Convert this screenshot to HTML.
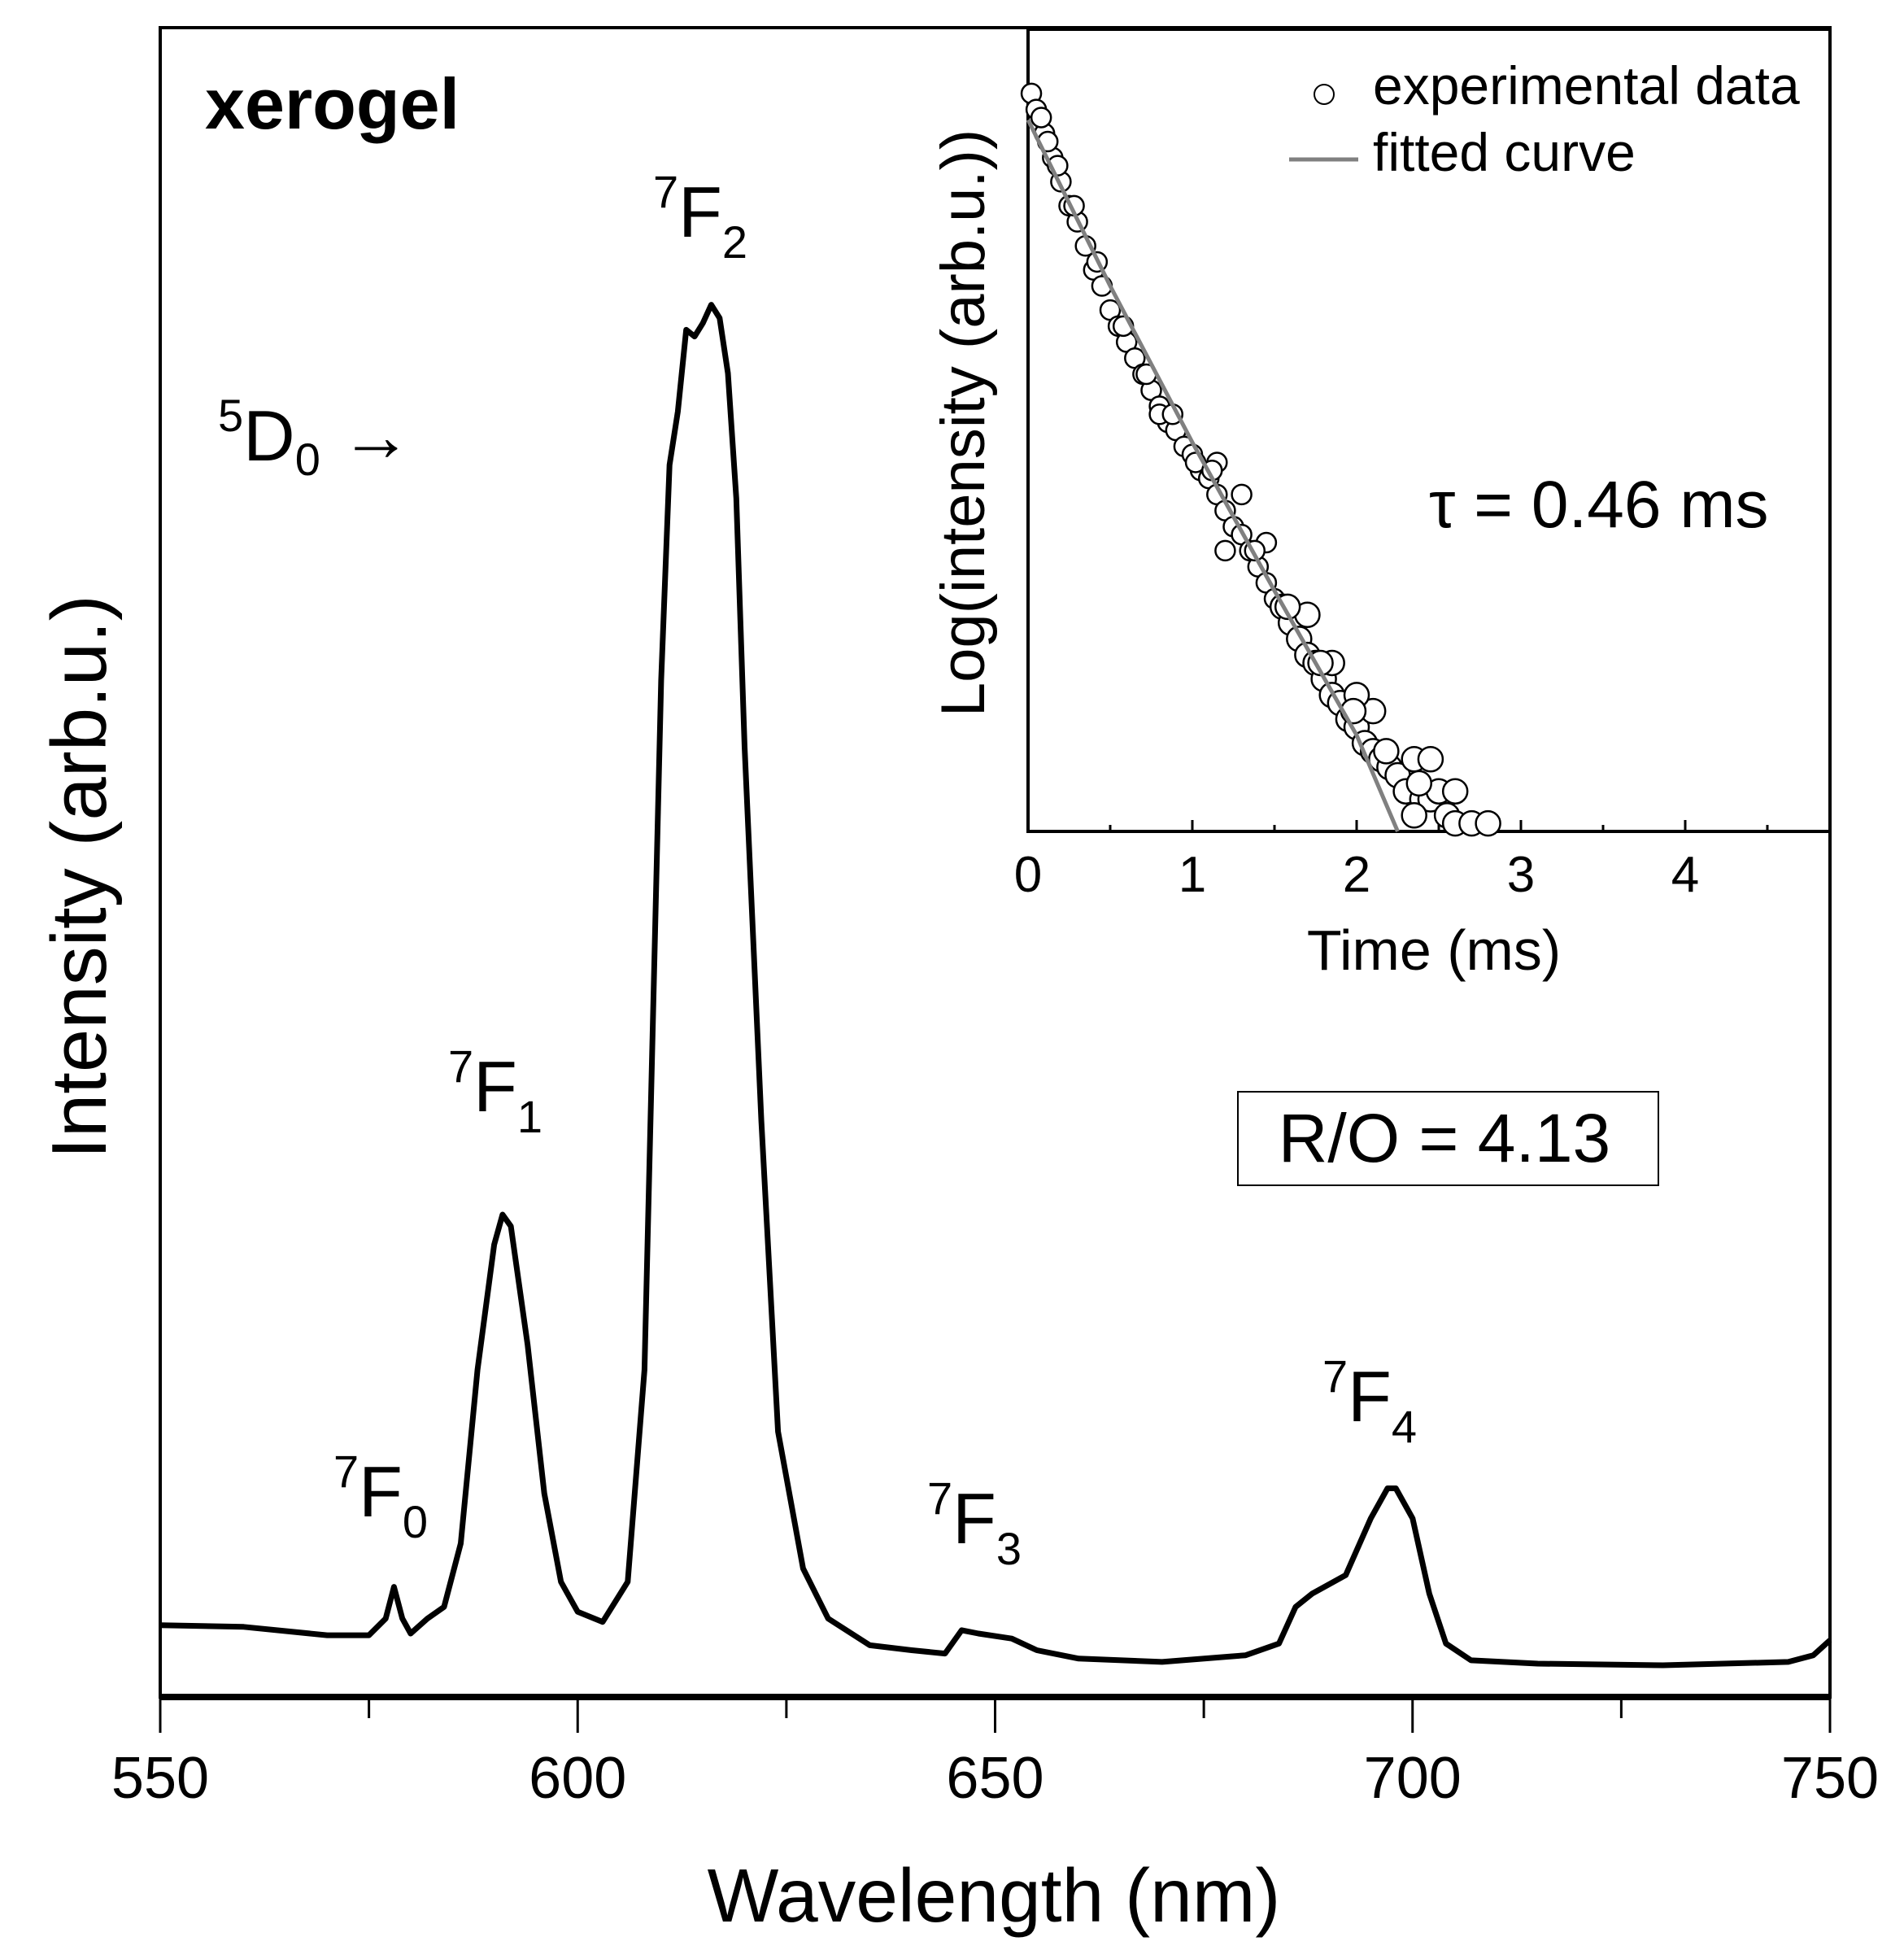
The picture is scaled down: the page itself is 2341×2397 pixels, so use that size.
<!DOCTYPE html>
<html><head><meta charset="utf-8"><style>
html,body{margin:0;padding:0;background:#fff}
svg{display:block;font-family:"Liberation Sans",sans-serif}
</style></head><body>
<svg id="c" width="2341" height="2397" viewBox="0 0 2341 2397" xmlns="http://www.w3.org/2000/svg">
<rect width="2341" height="2397" fill="#fff"/>
<g id="main"></g>
<g id="inset"></g>
<text x="252" y="158" font-size="88" font-weight="bold">xerogel</text>
<text x="268" y="566" font-size="88"><tspan font-size="56" dy="-36">5</tspan><tspan dy="36">D</tspan><tspan font-size="56" dy="18">0</tspan><tspan dy="-18"> →</tspan></text>
<text x="803" y="291" font-size="88"><tspan font-size="56" dy="-36">7</tspan><tspan dy="36">F</tspan><tspan font-size="56" dy="26">2</tspan></text>
<text x="551" y="1366" font-size="88"><tspan font-size="56" dy="-36">7</tspan><tspan dy="36">F</tspan><tspan font-size="56" dy="26">1</tspan></text>
<text x="410" y="1864" font-size="88"><tspan font-size="56" dy="-36">7</tspan><tspan dy="36">F</tspan><tspan font-size="56" dy="26">0</tspan></text>
<text x="1140" y="1897" font-size="88"><tspan font-size="56" dy="-36">7</tspan><tspan dy="36">F</tspan><tspan font-size="56" dy="26">3</tspan></text>
<text x="1626" y="1747" font-size="88"><tspan font-size="56" dy="-36">7</tspan><tspan dy="36">F</tspan><tspan font-size="56" dy="26">4</tspan></text>
<rect x="1522" y="1342" width="517" height="115" fill="none" stroke="#000" stroke-width="2"/>
<text x="1776" y="1428" font-size="84" text-anchor="middle">R/O = 4.13</text>
<text transform="translate(130,1078) rotate(-90)" font-size="96" text-anchor="middle">Intensity (arb.u.)</text>
<text x="1222" y="2362" font-size="93" text-anchor="middle">Wavelength (nm)</text>
<text transform="translate(1210,520) rotate(-90)" font-size="76" text-anchor="middle">Log(intensity (arb.u.))</text>
<text x="1763" y="1192" font-size="70" text-anchor="middle">Time (ms)</text>
<text x="1757" y="648" font-size="82">τ = 0.46 ms</text>
<circle cx="1628" cy="116" r="12" fill="#fff" stroke="#000" stroke-width="2"/>
<text x="1688" y="128" font-size="66">experimental data</text>
<line x1="1585" y1="196" x2="1670" y2="196" stroke="#808080" stroke-width="5"/>
<text x="1688" y="210" font-size="66">fitted curve</text>
</svg>
<script>
const wl=[550,560,570,575,577,578,579,580,582,584,586,588,590,591,592,594,596,598,600,603,606,608,610,611,612,613,614,615,616,617,618,619,620,622,624,627,630,635,640,644,646,648,652,655,660,670,680,684,686,688,692,695,697,698,700,702,704,707,715,730,745,748,750];
const inten=[4.3,4.2,3.7,3.7,4.7,6.6,4.7,3.8,4.7,5.4,9.2,19.6,27.1,28.9,28.2,21.1,12.2,6.9,5.1,4.5,6.9,19.6,60.9,73.8,77.0,81.9,81.5,82.3,83.4,82.6,79.3,71.8,56.9,34.5,15.9,7.7,4.7,3.1,2.8,2.6,4.0,3.8,3.5,2.8,2.3,2.1,2.5,3.2,5.4,6.2,7.3,10.7,12.5,12.5,10.7,6.2,3.2,2.2,2.0,1.9,2.1,2.5,3.4];
const xTicks=[550,600,650,700,750];
const expT=[0.02,0.05,0.1,0.15,0.2,0.25,0.3,0.35,0.4,0.45,0.5,0.55,0.6,0.65,0.7,0.75,0.8,0.85,0.9,0.95,1.0,1.05,1.1,1.15,1.2,1.25,1.3,1.35,1.4,1.45,1.5,1.55,1.6,1.65,1.7,1.75,1.8,1.85,1.9,1.95,2.0,2.05,2.1,2.15,2.2,2.25,2.3,2.35,2.4,2.45,2.5,2.55,2.6,2.7,2.8,0.8,1.15,1.2,1.3,1.45,1.7,1.85,2.1,2.0,2.45,2.6,2.35,0.08,0.12,0.18,0.28,0.42,0.58,0.72,0.88,1.02,1.12,1.38,1.58,1.78,1.98,2.18,2.38];
const expV=[0.92,0.90,0.87,0.84,0.81,0.78,0.76,0.73,0.70,0.68,0.65,0.63,0.61,0.59,0.57,0.55,0.53,0.51,0.50,0.48,0.47,0.45,0.44,0.42,0.40,0.38,0.37,0.35,0.33,0.31,0.29,0.28,0.26,0.24,0.22,0.21,0.19,0.17,0.16,0.14,0.13,0.11,0.10,0.09,0.08,0.07,0.05,0.09,0.04,0.04,0.05,0.02,0.01,0.01,0.01,0.52,0.46,0.35,0.42,0.36,0.27,0.21,0.15,0.17,0.09,0.05,0.02,0.89,0.86,0.83,0.78,0.71,0.63,0.57,0.52,0.46,0.45,0.35,0.28,0.21,0.15,0.10,0.06];
const fitT=[0,0.5,1.0,1.5,2.0,2.25];
const fitV=[0.887,0.68,0.485,0.30,0.12,0];
const insetTicks=[0,1,2,3,4];
const NS='http://www.w3.org/2000/svg';
function mk(tag,attrs,parent){const e=document.createElementNS(NS,tag);for(const k in attrs)e.setAttribute(k,attrs[k]);parent.appendChild(e);return e;}
const L=197,R=2250,T=34,B=2086;
const xs=v=>L+(v-550)/200*(R-L);
const ys=v=>B-v/100*(B-T);
const main=document.getElementById('main');
let fr=mk('rect',{x:L,y:T,width:R-L,height:B-T,fill:'none',stroke:'#000','stroke-width':4},main);


let xa=mk('line',{x1:L,y1:B,x2:R,y2:B,stroke:'#000','stroke-width':8},main);


for(let v=550;v<=750;v+=25){
  const major=(v%50===0);
  const t=mk('line',{x1:xs(v),y1:B,x2:xs(v),y2:B+(major?44:26),stroke:'#000','stroke-width':3},main);
  
  
}
xTicks.forEach(v=>{
  const t=mk('text',{x:xs(v),y:2210,'font-size':72,'text-anchor':'middle'},main);
  t.textContent=v;
  
  
});
let d='';wl.forEach((w,i)=>{d+=(i?'L':'M')+xs(w).toFixed(1)+' '+ys(inten[i]).toFixed(1);});
let sp=mk('path',{d:d,fill:'none',stroke:'#000','stroke-width':7,'stroke-linejoin':'round'},main);


const iL=1264,iR=2250,iT=36,iB=1022;
const ixs=v=>iL+v*202;
const iys=v=>iB-v*(iB-iT);
const ins=document.getElementById('inset');
let bg=mk('rect',{x:iL,y:iT,width:iR-iL,height:iB-iT,fill:'#fff',stroke:'#000','stroke-width':4},ins);


for(let v=0;v<=4.5;v+=0.5){
  const t=mk('line',{x1:ixs(v),y1:iB,x2:ixs(v),y2:iB-(v%1===0?14:8),stroke:'#000','stroke-width':3},ins);
  
  
}
insetTicks.forEach(v=>{
  const t=mk('text',{x:ixs(v),y:1096,'font-size':62,'text-anchor':'middle'},ins);
  t.textContent=v;
  
  
});
expT.forEach((t,i)=>{
  const c=mk('circle',{cx:ixs(t),cy:iys(expV[i]),r:t>1.5?15:12,fill:'#fff',stroke:'#000','stroke-width':2.5},ins);
  
  
});
let fd='';fitT.forEach((t,i)=>{fd+=(i?'L':'M')+ixs(t).toFixed(1)+' '+iys(fitV[i]).toFixed(1);});
let fl=mk('path',{d:fd,fill:'none',stroke:'#808080','stroke-width':5},ins);


</script>
</body></html>
